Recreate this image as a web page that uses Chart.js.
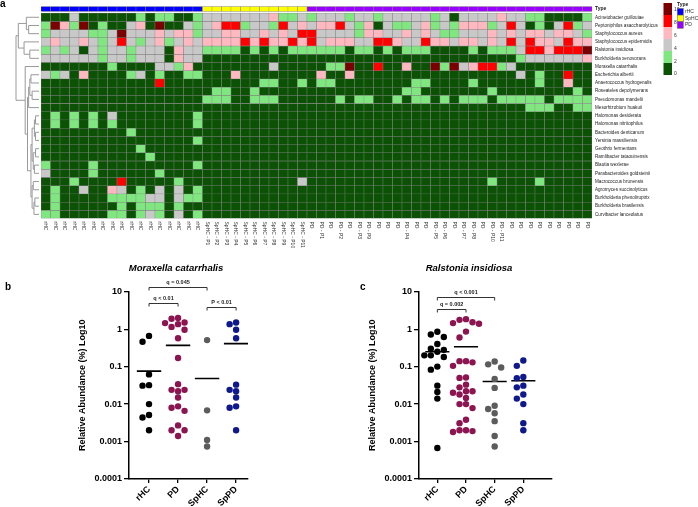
<!DOCTYPE html>
<html>
<head>
<meta charset="utf-8">
<script src="https://cdn.jsdelivr.net/npm/chart.js@4.4.1/dist/chart.umd.min.js"></script>
<style>
  body { margin: 0; background: #fff; width: 698px; height: 507px; position: relative; overflow: hidden; }
  canvas { position: absolute; }
</style>
</head>
<body>
<canvas id="heat" width="698" height="262" style="left:0px;top:0px"></canvas>
<canvas id="morax" width="349" height="252" style="left:0px;top:255px"></canvas>
<canvas id="ralst" width="349" height="252" style="left:349px;top:255px"></canvas>
<script>
// ---- heatmap data ----
var species = ['Acinetobacter guillouiae', 'Peptoniphilus asaccharolyticus', 'Staphylococcus aureus',
  'Staphylococcus epidermidis', 'Ralstonia insidiosa', 'Burkholderia xenovorans', 'Moraxella catarrhalis',
  'Escherichia albertii', 'Anaerococcus hydrogenalis', 'Roseateles depolymerans', 'Pseudomonas mandelii',
  'Mesorhizobium huakuii', 'Halomonas desiderata', 'Halomonas nitritophilus', 'Bacteroides denticanum',
  'Yersinia massiliensis', 'Geothrix fermentans', 'Ramlibacter tataouinensis', 'Blautia wexlerae',
  'Parabacteroides goldsteinii', 'Macrococcus brunensis', 'Agromyces succinolyticus',
  'Burkholderia phenoliruptrix', 'Burkholderia brasilensis', 'Curvibacter lanceolatus'];

var rhcLabels = ['rHC', 'rHC', 'rHC', 'rHC', 'rHC', 'rHC', 'rHC', 'rHC', 'rHC', 'rHC', 'rHC', 'rHC', 'rHC', 'rHC', 'rHC', 'rHC', 'rHC'];
var sphcLabels = ['SpHC - P1', 'SpHC - P2', 'SpHC - P3', 'SpHC - P4', 'SpHC - P5', 'SpHC - P6', 'SpHC - P7',
  'SpHC - P8', 'SpHC - P9', 'SpHC - P10', 'SpHC - P11'];
var pdLabels = ['PD', 'PD - P1', 'PD', 'PD - P2', 'PD', 'PD - P3', 'PD - P9', 'PD', 'PD', 'PD', 'PD - P4', 'PD', 'PD',
  'PD - P5', 'PD - P6', 'PD', 'PD - P7', 'PD - P8', 'PD', 'PD - P10', 'PD - P11', 'PD', 'PD', 'PD', 'PD', 'PD', 'PD',
  'PD', 'PD', 'PD'];

// colour class per cell (0 = 0-2 ... 5 = 10+), columns grouped rHC | SpHC | PD
var heatRows = [
  '00020000001011001 22222223112 122212212222212022223221100001',
  '15315010023050021 23441221423 233421302112312133312420102412',
  '12222112522232331 22332232324 422221332232321122232323323321',
  '23223212421231232 33334343343 423332244322433233232424332433',
  '12120212212220322 11110101011 111101101011100001011124434445',
  '22222212212220322 00000000000 000000000000000000000012222223',
  '00000001000022130 00000002000 001150040030051523441200000000',
  '21203000012010011 00030000000 030030000000000000000020100400',
  '00000000000040000 00000011001 011000000001100001000000100300',
  '00000000000000000 01100100000 000000000011000000010000000010',
  '00000000000000000 11100111000 000101100101101011101111101111',
  '00000000000000000 00000000000 000000000000000000000001110011',
  '01010102000000001 00000000000 000000000000000000000000000000',
  '01010101000000001 00000000000 000000000000000000000000000000',
  '00000000010000000 00000000000 000000000000000000000000000000',
  '00000000000000001 00000000000 000000000000000000000000000000',
  '00000000001000000 00000000000 000000000000000000000000000000',
  '00000000000100000 00000000000 000000000000000000000000000000',
  '10000100000000001 00000000000 000000000000000000000000000000',
  '20000100000010000 00000000000 000000000000000000000000000000',
  '00010000400000100 00000000002 000000000000000000010000100000',
  '01002003201020201 00000000000 000000000000000000000000000000',
  '01000001111220211 00000000000 000000000000000000000000000000',
  '01000000101110100 00000000000 000000000000000000000000000000',
  '11000001101210201 00000000000 000000000000000000000000000000'
];
var levelColors = ['#0b5205', '#80e680', '#c8c8c8', '#ffb8c0', '#ff0000', '#7a0000'];
var legendTicks = ['10', '8', '6', '4', '2', '0'];
var typeNames = ['rHC', 'SpHC', 'PD'];
var typeColors = ['#0000ff', '#ffff00', '#9a00ff'];

// dendrogram merges: [child a, child b, height]; children >= 25 are earlier merges
var dendroMerges = [
  [1, 2, 4.5], [0, 25, 5.5], [4, 5, 4.0], [3, 27, 6.5], [26, 28, 9.0],
  [7, 8, 3.5], [9, 10, 3.0], [30, 31, 4.0], [11, 32, 4.5], [12, 13, 1.5],
  [14, 15, 1.5], [34, 35, 2.0], [16, 17, 1.5], [18, 19, 2.0], [37, 38, 2.5],
  [36, 39, 3.0], [20, 21, 2.5], [22, 23, 1.8], [42, 24, 2.2], [41, 43, 3.0],
  [40, 44, 3.5], [33, 45, 5.0], [6, 46, 6.0], [29, 47, 10.0]
];

// ---- scatter data (relative abundance %) ----
var groups = ['rHC', 'PD', 'SpHC', 'SpPD'];
var groupColors = ['#000000', '#8c1450', '#5c5c5c', '#0f198c'];
var yTickValues = [10, 1, 0.1, 0.01, 0.001, 0.0001];
var yTickLabels = ['10', '1', '0.1', '0.01', '0.001', '0.0001'];

var moraxRHC = [0.66, 0.46, 0.062, 0.031, 0.032, 0.01, 0.0051, 0.0044, 0.002];
var moraxPD = [2.0, 1.9, 1.15, 1.36, 1.5, 1.45, 0.96, 0.57, 0.17, 0.034, 0.024, 0.022, 0.024, 0.015,
  0.0087, 0.008, 0.0066, 0.0027, 0.002, 0.002, 0.0014];
var moraxSpHC = [0.51, 0.0068, 0.0011, 0.00074];
var moraxSpPD = [1.5, 1.36, 0.96, 0.57, 0.033, 0.022, 0.024, 0.015, 0.0087, 0.008, 0.002];
var moraxMeans = [0.076, 0.37, 0.048, 0.41];
var moraxBrackets = [[0, 2, 13.2, 'q = 0.045'], [0, 1, 5.1, 'q < 0.01'], [2, 3, 4.0, 'P < 0.01']];

var ralstRHC = [0.85, 0.72, 0.62, 0.4, 0.3, 0.28, 0.25, 0.2, 0.18, 0.2, 0.1, 0.083, 0.031, 0.021, 0.014, 0.00067];
var ralstPD = [1.85, 1.77, 1.53, 1.45, 1.4, 0.86, 0.6, 0.14, 0.14, 0.13, 0.105, 0.051, 0.05, 0.033, 0.028,
  0.022, 0.022, 0.02, 0.018, 0.0145, 0.01, 0.01, 0.0078, 0.0038, 0.0031, 0.002, 0.002, 0.0019, 0.0018];
var ralstSpHC = [0.137, 0.095, 0.115, 0.047, 0.027, 0.0074, 0.009, 0.0057, 0.0035, 0.0014, 0.00074];
var ralstSpPD = [0.146, 0.105, 0.049, 0.053, 0.028, 0.031, 0.018, 0.014, 0.01, 0.0031, 0.002];
var ralstMeans = [0.25, 0.34, 0.04, 0.042];
var ralstBrackets = [[0, 2, 7.4, 'q < 0.001'], [0, 1, 3.4, 'q = 0.002']];

Chart.defaults.font.family = '"Liberation Sans", Arial, sans-serif';
Chart.defaults.color = '#000';

// ---------------- heatmap ----------------
var colLabels = rhcLabels.concat(sphcLabels, pdLabels);
var colType = rhcLabels.map(function () { return 0; })
  .concat(sphcLabels.map(function () { return 1; }), pdLabels.map(function () { return 2; }));

var barStyle = { barPercentage: 1, categoryPercentage: 1, grouped: false,
  borderWidth: 0.5, borderColor: '#7d7d7d', borderSkipped: false };

var heatSets = [Object.assign({
  data: colLabels.map(function () { return [-0.8, -0.2]; }),
  backgroundColor: colType.map(function (t) { return typeColors[t]; })
}, barStyle)];
heatRows.forEach(function (row, j) {
  var lv = row.replace(/ /g, '').split('').map(Number);
  heatSets.push(Object.assign({
    data: lv.map(function () { return [j, j + 1]; }),
    backgroundColor: lv.map(function (v) { return levelColors[v]; })
  }, barStyle));
});

var heatExtras = {
  id: 'heatExtras',
  afterDraw: function (chart) {
    var ctx = chart.ctx, xs = chart.scales.x, ys = chart.scales.y, area = chart.chartArea;
    ctx.save();
    // column labels, reading downwards
    ctx.fillStyle = '#333';
    ctx.font = '5px "Liberation Sans"';
    ctx.textAlign = 'left';
    ctx.textBaseline = 'middle';
    colLabels.forEach(function (lab, i) {
      ctx.save();
      ctx.translate(xs.getPixelForValue(i), area.bottom + 3);
      ctx.rotate(Math.PI / 2);
      ctx.fillText(lab, 0, 0);
      ctx.restore();
    });

    // dendrogram
    var right = area.left - 2, k = (right - 16) / 10;
    var nodes = species.map(function (s, j) { return { h: 0, y: ys.getPixelForValue(j + 0.5) }; });
    ctx.strokeStyle = '#999';
    ctx.lineWidth = 1;
    dendroMerges.forEach(function (m) {
      var a = nodes[m[0]], b = nodes[m[1]], nx = right - m[2] * k;
      ctx.beginPath();
      ctx.moveTo(right - a.h * k, a.y);
      ctx.lineTo(nx, a.y);
      ctx.lineTo(nx, b.y);
      ctx.lineTo(right - b.h * k, b.y);
      ctx.stroke();
      nodes.push({ h: m[2], y: (a.y + b.y) / 2 });
    });

    // colour key
    var lx = 663.5, top = 3, bh = 12;
    for (var i = 0; i < 6; i++) {
      ctx.fillStyle = levelColors[5 - i];
      ctx.fillRect(lx, top + i * bh, 8.5, bh);
    }
    ctx.fillStyle = '#333';
    ctx.font = '5px "Liberation Sans"';
    legendTicks.forEach(function (t, i) {
      ctx.fillText(t, 674, 10 + i * 12.8);
    });

    // type key
    ctx.font = 'bold 5px "Liberation Sans"';
    ctx.fillStyle = '#222';
    ctx.fillText('Type', 677, 5);
    ctx.font = '5px "Liberation Sans"';
    typeNames.forEach(function (t, i) {
      var by = 8.5 + i * 6.6;
      ctx.fillStyle = typeColors[i];
      ctx.fillRect(677.3, by, 6, 6.6);
      ctx.strokeStyle = '#666';
      ctx.lineWidth = 0.5;
      ctx.strokeRect(677.3, by, 6, 6.6);
      ctx.fillStyle = '#333';
      ctx.fillText(t, 685, by + 3.4);
    });

    // panel letter
    ctx.fillStyle = '#000';
    ctx.font = 'bold 10px "Liberation Sans"';
    ctx.fillText('a', 0, 4);
    ctx.restore();
  }
};

new Chart(document.getElementById('heat'), {
  type: 'bar',
  data: { labels: colLabels, datasets: heatSets },
  options: {
    responsive: false, animation: false, devicePixelRatio: 1, events: [],
    layout: { padding: { left: 41, right: 0, top: 2.5, bottom: 0 } },
    plugins: { legend: { display: false }, tooltip: { enabled: false } },
    scales: {
      x: {
        type: 'category', offset: true,
        grid: { display: false }, border: { display: false }, ticks: { display: false },
        afterFit: function (s) { s.height = 43.5; }
      },
      y: {
        type: 'linear', position: 'right', reverse: true, min: -0.9, max: 25,
        afterBuildTicks: function (s) {
          s.ticks = [{ value: -0.5 }].concat(species.map(function (n, j) { return { value: j + 0.5 }; }));
        },
        ticks: {
          autoSkip: false, padding: 3, color: '#222',
          callback: function (v, i) { return i === 0 ? 'Type' : species[i - 1]; },
          font: function (c) { return c.index === 0 ? { size: 5, weight: 'bold' } : { size: 4.6 }; }
        },
        grid: { display: false, drawTicks: false }, border: { display: false },
        afterFit: function (s) { s.width = 106; }
      }
    }
  },
  plugins: [heatExtras]
});

// ---------------- scatter panels ----------------
var DECADE_PX = 37.5, STEP_PX = 6.5, MIN_GAP_PX = 6;

// simple beeswarm: spread points that would overlap at the same height
function swarm(vals, unitPx) {
  var order = vals.map(function (v, i) { return i; })
    .sort(function (a, b) { return vals[b] - vals[a]; });
  var placed = [], off = [];
  order.forEach(function (i) {
    var yp = Math.log10(vals[i]) * DECADE_PX;
    for (var k = 0; k < 40; k++) {
      var cand = (k % 2 ? -1 : 1) * Math.ceil(k / 2) * STEP_PX;
      var hit = placed.some(function (p) { return Math.hypot(p.x - cand, p.y - yp) < MIN_GAP_PX; });
      if (!hit) { placed.push({ x: cand, y: yp }); off[i] = cand / unitPx; break; }
    }
  });
  return off;
}

function makePanel(id, series, means, brackets, title, letter, cfg) {
  var unitPx = cfg.axisPx / (cfg.xmax - cfg.xmin);
  var sets = [];
  series.forEach(function (vals, g) {
    var off = swarm(vals, unitPx);
    sets.push({
      data: vals.map(function (v, k) { return { x: g + off[k], y: v }; }),
      backgroundColor: groupColors[g], borderWidth: 0, pointRadius: 3.2
    });
  });
  means.forEach(function (m, g) {
    sets.push({
      data: [{ x: g - 0.42, y: m }, { x: g + 0.42, y: m }],
      showLine: true, borderColor: '#000', borderWidth: 1.6, pointRadius: 0
    });
  });

  var extras = {
    id: 'panelExtras',
    afterDraw: function (chart) {
      var ctx = chart.ctx, xs = chart.scales.x, ys = chart.scales.y;
      ctx.save();
      ctx.strokeStyle = '#333';
      ctx.fillStyle = '#222';
      ctx.lineWidth = 1;
      ctx.font = 'bold 5.5px "Liberation Sans"';
      ctx.textAlign = 'center';
      ctx.textBaseline = 'bottom';
      brackets.forEach(function (b) {
        var x1 = xs.getPixelForValue(b[0]), x2 = xs.getPixelForValue(b[1]), y = Math.round(ys.getPixelForValue(b[2])) + 0.5;
        ctx.beginPath();
        ctx.moveTo(x1, y + 3); ctx.lineTo(x1, y); ctx.lineTo(x2, y); ctx.lineTo(x2, y + 3);
        ctx.stroke();
        ctx.fillText(b[3], (x1 + x2) / 2, y - 2);
      });
      ctx.fillStyle = '#000';
      ctx.textBaseline = 'middle';
      ctx.font = 'italic bold 9.5px "Liberation Sans"';
      ctx.fillText(title, cfg.titleX, 13);
      ctx.textAlign = 'left';
      ctx.font = 'bold 10px "Liberation Sans"';
      ctx.fillText(letter, cfg.letterX, 32);
      ctx.restore();
    }
  };

  new Chart(document.getElementById(id), {
    type: 'scatter',
    data: { datasets: sets },
    options: {
      responsive: false, animation: false, devicePixelRatio: 1, events: [],
      layout: { padding: { left: cfg.padLeft, right: cfg.padRight, top: 36.7, bottom: 0 } },
      plugins: { legend: { display: false }, tooltip: { enabled: false } },
      scales: {
        x: {
          type: 'linear', min: cfg.xmin, max: cfg.xmax,
          afterBuildTicks: function (s) { s.ticks = groups.map(function (g, i) { return { value: i }; }); },
          ticks: {
            autoSkip: false, minRotation: 45, maxRotation: 45, padding: 1,
            font: { size: 9, weight: 'bold' }, color: '#000',
            callback: function (v) { return groups[Math.round(v)]; }
          },
          grid: { drawOnChartArea: false, drawTicks: true, tickLength: 4, color: '#000', lineWidth: 1.3 },
          border: { color: '#000', width: 1.5 },
          afterFit: function (s) { s.height = 28; }
        },
        y: {
          type: 'logarithmic', min: 0.0001, max: 10,
          afterBuildTicks: function (s) { s.ticks = yTickValues.map(function (v) { return { value: v }; }); },
          ticks: {
            autoSkip: false, padding: 2, font: { size: 9, weight: 'bold' }, color: '#000',
            callback: function (v, i) { return yTickLabels[i]; }
          },
          grid: { drawOnChartArea: false, drawTicks: true, tickLength: 5, color: '#000', lineWidth: 1.3 },
          border: { color: '#000', width: 1.5 },
          title: {
            display: true, text: 'Relative Abundance (%) Log10', color: '#000',
            font: { size: 9, weight: 'bold' }, padding: { top: 7, bottom: 2 }
          },
          afterFit: function (s) { s.width = 59; }
        }
      }
    },
    plugins: [extras]
  });
}

makePanel('morax', [moraxRHC, moraxPD, moraxSpHC, moraxSpPD], moraxMeans, moraxBrackets,
  'Moraxella catarrhalis', 'b',
  { padLeft: 70, padRight: 101, xmin: -0.69, xmax: 3.41, axisPx: 119, titleX: 176, letterX: 5 });
makePanel('ralst', [ralstRHC, ralstPD, ralstSpHC, ralstSpPD], ralstMeans, ralstBrackets,
  'Ralstonia insidiosa', 'c',
  { padLeft: 11, padRight: 146.3, xmin: -0.64, xmax: 3.99, axisPx: 132.7, titleX: 120, letterX: 11 });
</script>
</body>
</html>
